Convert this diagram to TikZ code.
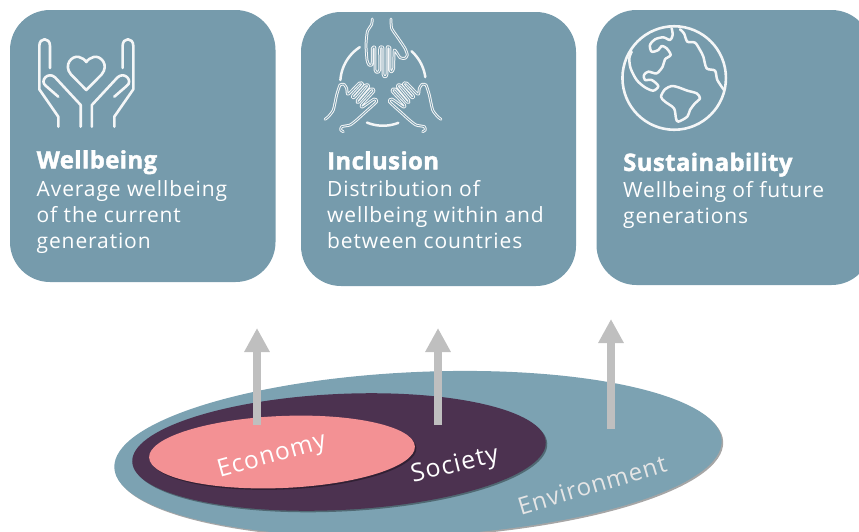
\documentclass[tikz,border=0pt]{standalone}
\usepackage{fontspec}
\setmainfont{Open Sans}
\newfontfamily\bodyf[LetterSpace=4.2]{Open Sans}
\newfontfamily\headf[LetterSpace=1.5,FakeBold=1.6]{Open Sans}
\newfontfamily\blobf[LetterSpace=4.5]{Open Sans}
\usetikzlibrary{shapes.geometric,shadows,arrows.meta}
\definecolor{boxc}{HTML}{769BAC}
\definecolor{envc}{HTML}{7CA2B2}
\definecolor{socc}{HTML}{4C3250}
\definecolor{ecoc}{HTML}{F39194}
\definecolor{arrc}{HTML}{BFBFBF}
\definecolor{icoc}{HTML}{F4F6F7}
\tikzset{
  card/.style={rectangle,fill=boxc,rounded corners=40pt,inner sep=0pt},
  cardtext/.style={anchor=north west,inner sep=0pt,align=left,text=white,font=\fontsize{21}{26.2}\selectfont\bodyf},
  blob/.style={ellipse,inner sep=0pt,drop shadow={shadow xshift=1.5pt,shadow yshift=-1.5pt,opacity=.35,fill=black}},
  blobtext/.style={inner sep=0pt,text=white,font=\blobf},
  upar/.style={draw=arrc,line width=8pt,-{Triangle[length=24pt,width=24pt]}},
  ico/.style={draw=icoc,line width=2.6pt,line join=round,line cap=round},
  icothin/.style={draw=icoc,line width=2.5pt,line join=round,line cap=round},
  handl/.style={draw=icoc,line width=1pt,double=boxc,double distance=.8pt,line join=round,line cap=round}
}
\newcommand{\lowerhand}{%
  \draw[handl] plot[smooth,tension=.35] coordinates {(15,133) (25,125) (40,105) (50,60) (60,30) (72,28) (80,40) (84,58) (118,24) (128,28) (98,62) (102,68) (136,30) (146,34) (112,76) (116,82) (152,42) (162,48) (124,90) (128,96) (162,72) (170,80) (132,115) (110,135) (90,150) (65,155) (62,165) (70,170)};%
}
\begin{document}
\begin{tikzpicture}[x=1pt,y=-1pt]
\useasboundingbox (0,0) rectangle (859,531);
\clip (0,0) rectangle (859,531);
% cards
\node[card,minimum width=265.5pt,minimum height=272pt] (box1) at (142.75,146) {};
\node[card,minimum width=275pt,minimum height=274pt] (box2) at (438.5,149) {};
\node[card,minimum width=275pt,minimum height=275pt] (box3) at (734,147.5) {};
% card text
\node[cardtext] (t1) at (36.5,150) {{\fontsize{24}{26}\selectfont\headf\bfseries Wellbeing}\\[1.5pt]Average wellbeing\\of the current\\generation};
\node[cardtext] (t2) at (327,151) {{\fontsize{24}{26}\selectfont\headf\bfseries Inclusion}\\[.5pt]Distribution of\\wellbeing within and\\between countries};
\node[cardtext] (t3) at (623,152.5) {{\fontsize{24}{26}\selectfont\headf\bfseries Sustainability}\\[.5pt]Wellbeing of future\\generations};
% hands and heart
\draw[ico] (58.3,126.7) -- (58.3,116.7) -- (39.3,89.3) -- (39.3,46) .. controls (39.3,37) and (50,37) .. (50,46) -- (50,68);
\draw[ico] (80.7,126.7) -- (80.7,105) -- (55,77.3) .. controls (48,71) and (39,81) .. (46,86) -- (58.3,96.7);
\draw[ico] (114.3,126.7) -- (114.3,116.7) -- (133.3,89.3) -- (133.3,46) .. controls (133.3,37) and (122.6,37) .. (122.6,46) -- (122.6,68);
\draw[ico] (91.9,126.7) -- (91.9,105) -- (117.6,77.3) .. controls (124.6,71) and (133.6,81) .. (126.6,86) -- (114.3,96.7);
\draw[ico] (86.3,90) -- (71,74.5) .. controls (63,65) and (72,55) .. (79,57) .. controls (82,57.5) and (85,60) .. (86.3,62) .. controls (87.6,60) and (90.6,57.5) .. (93.6,57) .. controls (100.6,55) and (109.6,65) .. (101.6,74.5) -- cycle;
% joined hands
\draw[icothin] plot[domain=123:176,samples=20] ({383+42.7*cos(\x)},{83-42.7*sin(\x)});
\draw[icothin] plot[domain=8:48,samples=20] ({383+42.7*cos(\x)},{83-42.7*sin(\x)});
\draw[icothin] plot[domain=248:291,samples=20] ({383+42.7*cos(\x)},{83-42.7*sin(\x)});
\begin{scope}[shift={(355,15)},x=.3333pt,y=-.3333pt]
\draw[handl] plot[smooth,tension=.35] coordinates {(52,12) (50,28) (37,50) (33,90) (36,135) (42,150) (50,150) (52,135) (52,100) (56,96) (60,100) (60,165) (67,172) (74,165) (74,100) (79,96) (84,100) (84,178) (90,185) (96,178) (96,100) (100,96) (105,100) (105,165) (110,170) (116,160) (118,105) (135,128) (150,130) (157,120) (150,100) (130,70) (110,40) (108,12)};
\end{scope}
\begin{scope}[shift={(320,75)},x=.3333pt,y=-.3333pt]
\lowerhand
\end{scope}
\begin{scope}[shift={(446,75)},x=-.3333pt,y=-.3333pt]
\lowerhand
\end{scope}
% globe
\node[circle,draw=icoc,line width=2.6pt,minimum size=103.5pt,inner sep=0pt] (globe) at (674.2,78) {};
\begin{scope}[shift={(600,0)},x=.3333pt,y=-.3333pt]
\draw[icothin] plot[smooth,tension=.5] coordinates {(215,85) (218,105) (210,120) (190,112) (165,118) (150,135) (155,155) (175,150) (185,138) (200,145) (212,165) (195,178) (188,200) (170,220) (145,215) (132,225) (135,240) (155,240) (175,258) (160,272) (135,262) (110,240) (92,205) (88,175) (95,155)};
\draw[icothin] plot[smooth,tension=.5] coordinates {(240,88) (252,100) (262,125) (285,128) (300,150) (310,170) (320,205) (345,212) (352,240) (372,270)};
\draw[icothin] plot[smooth cycle,tension=.5] coordinates {(215,258) (235,262) (262,272) (290,280) (300,295) (285,310) (270,330) (262,350) (235,365) (228,355) (222,325) (195,305) (183,290) (195,268)};
\end{scope}
% nested ellipses
\node[blob,fill=envc,minimum width=608pt,minimum height=164pt,rotate=2.6] (env) at (418,454) {};
\coordinate (a1s) at (257,425);
\coordinate (a1e) at (257,328);
\coordinate (a2s) at (438,425);
\coordinate (a2e) at (438,328);
\coordinate (a3s) at (611,429);
\coordinate (a3e) at (611,319);
\draw[upar] (a3s) -- (a3e);
\node[blob,fill=socc,minimum width=414pt,minimum height=116pt,rotate=2.75] (soc) at (339,452) {};
\draw[upar] (a1s) -- (a1e);
\draw[upar] (a2s) -- (a2e);
\node[blob,fill=ecoc,minimum width=266pt,minimum height=72pt,rotate=2.4] (eco) at (282,452) {};
\draw[arrc,line width=8pt] (a1s) -- (257,415);
\node[blobtext,rotate=15.5,font=\fontsize{24.5}{26}\selectfont\blobf] (l1) at (272,457) {Economy};
\node[blobtext,rotate=13.5,font=\fontsize{25}{26}\selectfont\blobf] (l2) at (455,466) {Society};
\node[blobtext,rotate=16.5,text=white!90!black,font=\fontsize{24}{26}\selectfont\bodyf] (l3) at (592,485) {Environment};
\end{tikzpicture}
\end{document}
